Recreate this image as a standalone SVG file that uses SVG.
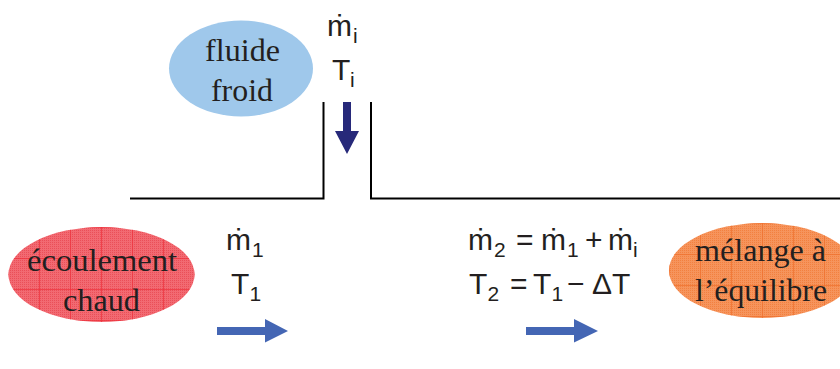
<svg xmlns="http://www.w3.org/2000/svg" width="840" height="369" viewBox="0 0 840 369">
<style>
.s{font-family:"Liberation Serif",serif;font-size:31px;fill:#231f20}
.f{font-family:"Liberation Sans",Arial,sans-serif;font-size:30px;fill:#231f20}
.b{font-size:21px}
.w{fill:none;stroke:#000;stroke-width:2}
.a{fill:#4466b4}
</style>
<defs>
<pattern id="fr" width="2" height="2" patternUnits="userSpaceOnUse"><rect width="2" height="2" fill="#f26a72"/><rect width="1" height="1" fill="#ea4f58"/></pattern>
<pattern id="gr" x="8" y="227" width="31" height="31" patternUnits="userSpaceOnUse"><rect x="0" width="1" height="31" fill="#ee2f3b" fill-opacity=".7"/><rect y="0" width="31" height="1" fill="#ee2f3b" fill-opacity=".7"/></pattern>
<pattern id="fo" width="2" height="2" patternUnits="userSpaceOnUse"><rect width="2" height="2" fill="#f6945c"/><rect width="1" height="1" fill="#f2803f"/></pattern>
<pattern id="go" x="669" y="223" width="31" height="31" patternUnits="userSpaceOnUse"><rect x="0" width="1" height="31" fill="#f0702c" fill-opacity=".7"/><rect y="0" width="31" height="1" fill="#f0702c" fill-opacity=".7"/></pattern>
</defs>
<g id="connectors">
<path class="w" d="M130 198.500H323.500V102M840 198.500H371V102"/>
<path fill="#27297a" d="M343 102H351V131H359L347 154L335 131H343Z"/>
<path class="a" d="M217 327H265V319L288 331L265 342.500V335H217Z"/>
<path class="a" d="M526 327H574V319L598 331L574 342.500V335H526Z"/>
</g>
<g id="fluide-froid">
<ellipse cx="241" cy="68.500" rx="72" ry="48" fill="#9fc8eb"/>
<text class="s" x="205" y="61" textLength="75" lengthAdjust="spacingAndGlyphs">fluide</text>
<text class="s" x="211" y="101" textLength="62" lengthAdjust="spacingAndGlyphs">froid</text>
</g>
<g id="ecoulement-chaud">
<ellipse cx="101.500" cy="274.500" rx="93" ry="47.500" fill="url(#fr)"/>
<ellipse cx="101.500" cy="274.500" rx="93" ry="47.500" fill="url(#gr)"/>
<text class="s" x="27" y="271" textLength="150" lengthAdjust="spacingAndGlyphs">écoulement</text>
<text class="s" x="63" y="311" textLength="77" lengthAdjust="spacingAndGlyphs">chaud</text>
</g>
<g id="melange">
<ellipse cx="762" cy="270.500" rx="93" ry="47.500" fill="url(#fo)"/>
<ellipse cx="762" cy="270.500" rx="93" ry="47.500" fill="url(#go)"/>
<text class="s" x="695" y="261" textLength="131" lengthAdjust="spacingAndGlyphs">mélange à</text>
<text class="s" x="695" y="301" textLength="132" lengthAdjust="spacingAndGlyphs">l’équilibre</text>
</g>
<g id="label-i">
<text class="f" x="327" y="36">ṁ<tspan class="b" x="353" y="43">i</tspan></text>
<text class="f" x="332" y="80">T<tspan class="b" x="350" y="87">i</tspan></text>
</g>
<g id="label-1">
<text class="f" x="226" y="250">ṁ<tspan class="b" x="252" y="257">1</tspan></text>
<text class="f" x="231" y="294">T<tspan class="b" x="249.500" y="301">1</tspan></text>
</g>
<g id="label-2">
<text class="f" y="250"><tspan x="468">ṁ</tspan><tspan class="b" x="494" y="257">2</tspan><tspan x="516" y="250">=</tspan><tspan x="541">ṁ</tspan><tspan class="b" x="567" y="257">1</tspan><tspan x="585" y="250">+</tspan><tspan x="608">ṁ</tspan><tspan class="b" x="633" y="257">i</tspan></text>
<text class="f" y="294"><tspan x="469">T</tspan><tspan class="b" x="487.500" y="301">2</tspan><tspan x="510" y="294">=</tspan><tspan x="533">T</tspan><tspan class="b" x="551.500" y="301">1</tspan><tspan x="567" y="294">−</tspan><tspan x="592">Δ</tspan><tspan x="612">T</tspan></text>
</g>
</svg>
